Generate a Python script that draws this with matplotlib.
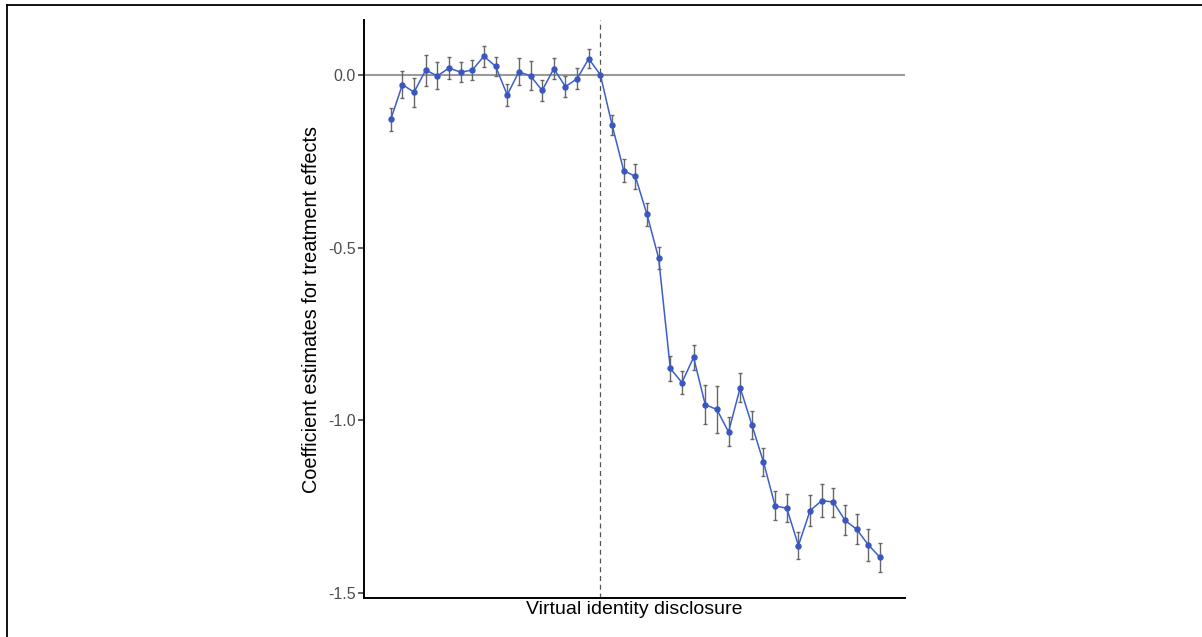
import numpy as np
import matplotlib
matplotlib.use("Agg")
import matplotlib.pyplot as plt
from matplotlib.lines import Line2D

plt.rcParams['font.family'] = ['Liberation Sans', 'DejaVu Sans']

# event time relative to disclosure (0 = reference period)
periods = list(range(-18, 25))

# coefficient estimates
pre_coef = [-0.129, -0.028, -0.050, 0.014, -0.003, 0.020, 0.008, 0.014, 0.054,
            0.025, -0.058, 0.009, -0.003, -0.045, 0.018, -0.034, -0.011, 0.047, 0.0]
post_coef = [-0.145, -0.277, -0.294, -0.404, -0.531, -0.850, -0.891, -0.818,
             -0.955, -0.969, -1.034, -0.906, -1.013, -1.121, -1.248, -1.255,
             -1.363, -1.262, -1.233, -1.237, -1.290, -1.316, -1.361, -1.397]

# half widths of the confidence intervals
pre_err = [0.033, 0.038, 0.042, 0.045, 0.039, 0.033, 0.030, 0.030, 0.030,
           0.028, 0.031, 0.039, 0.042, 0.030, 0.030, 0.030, 0.030, 0.028, 0.0]
post_err = [0.029, 0.033, 0.035, 0.033, 0.032, 0.036, 0.033, 0.037,
            0.056, 0.069, 0.042, 0.042, 0.041, 0.041, 0.042, 0.041,
            0.040, 0.045, 0.048, 0.042, 0.043, 0.044, 0.046, 0.042]

coef = np.array(pre_coef + post_coef)
err = np.array(pre_err + post_err)
x = np.array(periods)

fig = plt.figure(figsize=(12.02, 6.37), dpi=100)
ax = fig.add_axes([0.3028, 0.0612, 0.4501, 0.9074])

blue = '#3A5FCD'

ax.axhline(0, color='#999999', lw=1.5, zorder=1)
ax.axvline(0, color='#555555', lw=0.9, ls=(0, (4, 3)), zorder=1)

has_err = err > 0
ax.errorbar(x[has_err], coef[has_err], yerr=err[has_err], fmt='none',
            ecolor='#666666', elinewidth=1.0, capsize=1.6, capthick=1.0, zorder=2)
ax.plot(x, coef, color=blue, lw=1.1, zorder=3)
ax.plot(x, coef, 'o', color='#3A57C0', ms=3.6, zorder=4)

ax.set_xlim(-20.3, 26.15)
ax.set_ylim(-1.515, 0.159)
ax.set_yticks([0.0, -0.5, -1.0, -1.5])
ax.set_yticklabels(['0.0', '-0.5', '-1.0', '-1.5'])
ax.set_xticks([])

for s in ['top', 'right']:
    ax.spines[s].set_visible(False)
for s in ['left', 'bottom']:
    ax.spines[s].set_linewidth(1.4)
    ax.spines[s].set_color('black')
ax.tick_params(axis='y', length=4, width=1.1, color='#333333',
               labelsize=11.5, labelcolor='#4D4D4D', pad=2)

ax.set_xlabel('Virtual identity disclosure', fontsize=14, labelpad=2)
ax.set_ylabel('Coefficient estimates for treatment effects', fontsize=14.3, labelpad=5)

# thin frame on top and left of the image
fig.add_artist(Line2D([6.5 / 1202, 1.0], [1 - 5 / 637, 1 - 5 / 637],
                      transform=fig.transFigure, color='black', lw=1.3))
fig.add_artist(Line2D([6.5 / 1202, 6.5 / 1202], [0.0, 1 - 5 / 637],
                      transform=fig.transFigure, color='black', lw=1.3))

fig.savefig('out.png', dpi=100)
